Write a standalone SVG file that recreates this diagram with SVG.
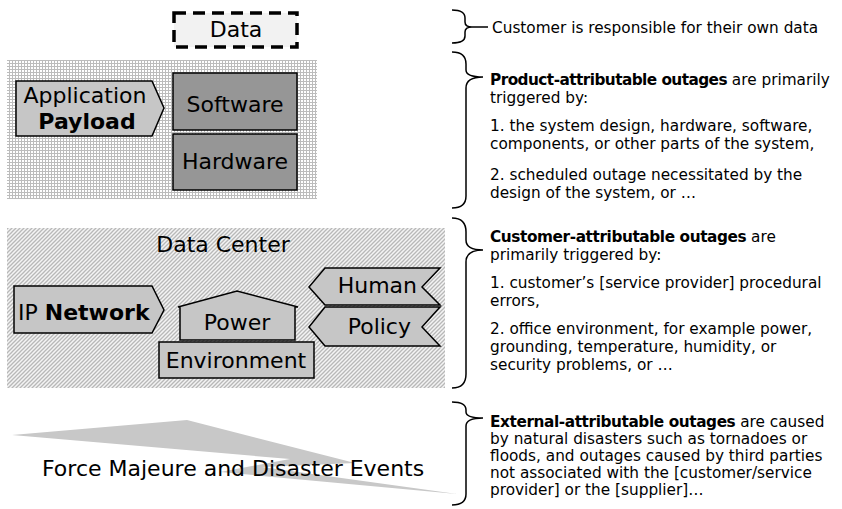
<svg xmlns="http://www.w3.org/2000/svg" width="842" height="509" viewBox="0 0 842 509">
<style>
.lbl{font-family:"DejaVu Sans","Verdana",sans-serif;font-size:22px;fill:#000}
.b{font-weight:bold}
.txt{font-family:"DejaVu Sans","Verdana",sans-serif;font-size:15.3px;fill:#000}
.sh{fill:#c6c6c6;stroke:#000;stroke-width:1.5}
.dk{fill:#969696;stroke:#000;stroke-width:1.5}
.brace{fill:none;stroke:#000;stroke-width:1.5}
</style>
<defs>
<pattern id="grid" patternUnits="userSpaceOnUse" width="3" height="3">
<rect width="3" height="3" fill="#ffffff"/>
<path d="M0.5,0 V3 M0,0.5 H3" stroke="#bcbcbc" stroke-width="1"/>
</pattern>
<pattern id="hatch" patternUnits="userSpaceOnUse" width="4" height="4">
<rect width="4" height="4" fill="#f4f4f4"/>
<path d="M-1,1 L1,-1 M0,4 L4,0 M3,5 L5,3" stroke="#b8b8b8" stroke-width="1.3"/>
</pattern>
</defs>

<g id="data">
<rect x="174" y="13" width="123" height="34" fill="#f2f2f2" stroke="#000" stroke-width="3.5" stroke-dasharray="12,7"/>
<text class="lbl" x="236" y="37" text-anchor="middle">Data</text>
</g>

<g id="product-panel">
<rect x="7" y="60" width="310" height="139" fill="url(#grid)"/>
</g>
<g id="application-payload">
<polygon class="sh" points="16,81 152,81 164,108 152,136 16,136"/>
<text class="lbl" x="85" y="103" text-anchor="middle">Application</text>
<text class="lbl b" x="87" y="129" text-anchor="middle">Payload</text>
</g>
<g id="software">
<rect class="dk" x="173" y="73" width="124" height="57"/>
<text class="lbl" x="235" y="112" text-anchor="middle">Software</text>
</g>
<g id="hardware">
<rect class="dk" x="173" y="134" width="124" height="56"/>
<text class="lbl" x="235" y="169" text-anchor="middle">Hardware</text>
</g>

<g id="data-center">
<rect x="7" y="228" width="438" height="160" fill="url(#hatch)"/>
<text class="lbl" x="223" y="252" text-anchor="middle">Data Center</text>
</g>
<g id="ip-network">
<polygon class="sh" points="14,286 152,286 164,310 152,333 14,333"/>
<text class="lbl" x="18" y="320">IP <tspan class="b">Network</tspan></text>
</g>
<g id="power">
<polygon class="sh" points="180,340 180,307 178,307 237,291 298,307 295,307 295,340"/>
<text class="lbl" x="237" y="330" text-anchor="middle">Power</text>
</g>
<g id="environment">
<rect class="sh" x="159" y="342" width="155" height="36"/>
<text class="lbl" x="236" y="368" text-anchor="middle">Environment</text>
</g>
<g id="human">
<polygon class="sh" points="325,268 440,268 422,287 440,305 325,305 309,287"/>
<text class="lbl" x="417" y="293" text-anchor="end">Human</text>
</g>
<g id="policy">
<polygon class="sh" points="325,307 440,307 422,327 440,346 325,346 309,327"/>
<text class="lbl" x="411" y="334" text-anchor="end">Policy</text>
</g>

<g id="force-majeure">
<polygon fill="#c8c8c8" points="12,435 187,420 355,463 262,467 457,494 220,472 290,459"/>
<text class="lbl" x="42" y="476">Force Majeure and Disaster Events</text>
</g>

<g id="connectors">
<path class="brace" d="M452,10 Q465,10 465,18 L465,22 Q465,27 472,27 Q465,27 465,32 L465,36 Q465,43 452,43 M472,27 H488"/>
<path class="brace" d="M452,52 Q466,52 466,64 L466,70 Q466,77 483,77 Q466,77 466,88 L466,196 Q466,208 452,208"/>
<path class="brace" d="M452,218 Q466,218 466,232 L466,240 Q466,250 483,250 Q466,250 466,262 L466,374 Q466,388 452,388"/>
<path class="brace" d="M452,402 Q466,402 466,410 L466,412 Q466,418 483,418 Q466,418 466,426 L466,494 Q466,505 452,505"/>
</g>

<g id="notes">
<text class="txt" x="492" y="33">Customer is responsible for their own data</text>
<text class="txt" x="490" y="85"><tspan class="b" letter-spacing="-0.55">Product-attributable outages</tspan> are primarily</text>
<text class="txt" x="490" y="103">triggered by:</text>
<text class="txt" x="490" y="131">1. the system design, hardware, software,</text>
<text class="txt" x="490" y="149">components, or other parts of the system,</text>
<text class="txt" x="490" y="180">2. scheduled outage necessitated by the</text>
<text class="txt" x="490" y="198">design of the system, or …</text>
<text class="txt" x="490" y="242"><tspan class="b" letter-spacing="-0.4">Customer-attributable outages</tspan> are</text>
<text class="txt" x="490" y="260">primarily triggered by:</text>
<text class="txt" x="490" y="288">1. customer’s [service provider] procedural</text>
<text class="txt" x="490" y="306">errors,</text>
<text class="txt" x="490" y="334">2. office environment, for example power,</text>
<text class="txt" x="490" y="352">grounding, temperature, humidity, or</text>
<text class="txt" x="490" y="370">security problems, or …</text>
<text class="txt" x="490" y="427"><tspan class="b" letter-spacing="-0.4">External-attributable outages</tspan> are caused</text>
<text class="txt" x="490" y="444">by natural disasters such as tornadoes or</text>
<text class="txt" x="490" y="461">floods, and outages caused by third parties</text>
<text class="txt" x="490" y="478">not associated with the [customer/service</text>
<text class="txt" x="490" y="495">provider] or the [supplier]…</text>
</g>
</svg>
